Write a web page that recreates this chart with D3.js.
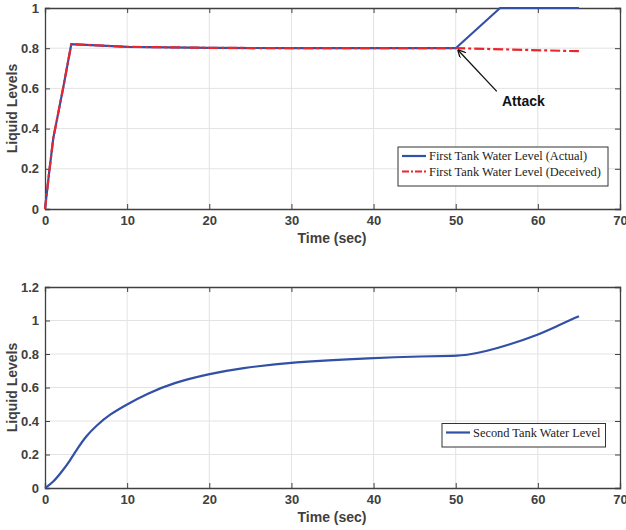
<!DOCTYPE html>
<html>
<head>
<meta charset="utf-8">
<script src="https://cdn.jsdelivr.net/npm/d3@7"></script>
<style>
  body { margin: 0; background: #fff; }
  svg { display: block; }
</style>
</head>
<body>
<svg id="chart" width="626" height="530"></svg>
<script>
'use strict';
// first tank (top panel)
var tankOneTime     = [0, 0.5, 1.0, 2.2, 3.2, 10, 20, 30, 40, 50, 55.4, 65];
var tankOneActual   = [0, 0.18, 0.35, 0.6, 0.82, 0.807, 0.802, 0.8, 0.8, 0.8, 1, 1];
var tankOneDecTime  = [0, 0.5, 1.0, 2.2, 3.2, 10, 20, 30, 40, 50, 65];
var tankOneDeceived = [0, 0.18, 0.35, 0.6, 0.82, 0.807, 0.802, 0.8, 0.8, 0.8, 0.785];
// second tank (bottom panel)
var tankTwoTime  = [0, 0, 1, 2, 3, 4, 5, 6.3, 7.9, 10, 12.4, 15.6, 20, 23.8, 30, 40, 46, 50, 51.4, 53.8, 56.3, 60, 62.3, 65, 65];
var tankTwoLevel = [0, 0, 0.035, 0.095, 0.16, 0.24, 0.31, 0.375, 0.44, 0.5, 0.562, 0.628, 0.682, 0.715, 0.752, 0.777, 0.786, 0.789, 0.794, 0.818, 0.852, 0.914, 0.966, 1.026, 1.026];

var xTicks = [0, 10, 20, 30, 40, 50, 60, 70];
var yTicksTop = [0, 0.2, 0.4, 0.6, 0.8, 1];
var yTicksBottom = [0, 0.2, 0.4, 0.6, 0.8, 1, 1.2];

var BLUE = '#3150a6', RED = '#eb252c', AXIS = '#404040', GRID = '#e3e3e3';
var svg = d3.select('#chart');

function panel(top, bottom, yMax, yTicks) {
    var x = d3.scaleLinear().domain([0, 70]).range([45, 620]);
    var y = d3.scaleLinear().domain([0, yMax]).range([bottom, top]);
    var g = svg.append('g');
    // grid
    g.selectAll('line.vg').data(xTicks.slice(1, -1)).enter().append('line')
        .attr('x1', x).attr('x2', x).attr('y1', top).attr('y2', bottom)
        .attr('stroke', GRID).attr('stroke-width', 1);
    g.selectAll('line.hg').data(yTicks.slice(1, -1)).enter().append('line')
        .attr('y1', y).attr('y2', y).attr('x1', 45).attr('x2', 620)
        .attr('stroke', GRID).attr('stroke-width', 1);
    var fmt = d3.format('~g');
    var axes = [
        [d3.axisBottom(x).tickValues(xTicks).tickFormat(fmt).tickSize(-5).tickPadding(7), 'translate(0,' + bottom + ')'],
        [d3.axisTop(x).tickValues(xTicks).tickFormat('').tickSize(-5), 'translate(0,' + top + ')'],
        [d3.axisLeft(y).tickValues(yTicks).tickFormat(fmt).tickSize(-5).tickPadding(6), 'translate(45,0)'],
        [d3.axisRight(y).tickValues(yTicks).tickFormat('').tickSize(-5), 'translate(620,0)']
    ];
    axes.forEach(function(a) {
        var ag = g.append('g').attr('transform', a[1]).call(a[0]);
        ag.select('.domain').attr('stroke', AXIS).attr('stroke-width', 1.3);
        ag.selectAll('.tick line').attr('stroke', AXIS).attr('stroke-width', 1);
        ag.selectAll('.tick text').attr('fill', AXIS)
            .style('font', 'bold 13px "Liberation Sans", Arial, sans-serif');
    });
    g.append('text').attr('x', 332).attr('y', bottom + 34).attr('text-anchor', 'middle')
        .attr('fill', AXIS).style('font', 'bold 14px "Liberation Sans", Arial, sans-serif')
        .text('Time (sec)');
    g.append('text').attr('transform', 'translate(17,' + ((top + bottom) / 2) + ') rotate(-90)')
        .attr('text-anchor', 'middle')
        .attr('fill', AXIS).style('font', 'bold 14px "Liberation Sans", Arial, sans-serif')
        .text('Liquid Levels');
    return { x: x, y: y, g: g };
}

function series(p, ts, vs, color, dash, curve) {
    var line = d3.line().x(function(d) { return p.x(d[0]); }).y(function(d) { return p.y(d[1]); })
        .curve(curve || d3.curveLinear);
    p.g.append('path').datum(d3.zip(ts, vs)).attr('d', line)
        .attr('fill', 'none').attr('stroke', color).attr('stroke-width', 2.2)
        .attr('stroke-dasharray', dash || null);
}

function legend(g, x0, y0, w, items) {
    var h = 8 + items.length * 15.5;
    g.append('rect').attr('x', x0).attr('y', y0).attr('width', w).attr('height', h)
        .attr('fill', '#fff').attr('stroke', '#333').attr('stroke-width', 1);
    items.forEach(function(it, i) {
        var cy = y0 + 9 + i * 15.5;
        g.append('line').attr('x1', x0 + 4).attr('x2', x0 + 28).attr('y1', cy).attr('y2', cy)
            .attr('stroke', it.color).attr('stroke-width', 2.2).attr('stroke-dasharray', it.dash || null);
        g.append('text').attr('x', x0 + 31).attr('y', cy + 4).attr('fill', '#222')
            .style('font', '12.4px "Liberation Serif", "Times New Roman", serif')
            .text(it.label);
    });
}

// top panel
var p1 = panel(8, 209, 1, yTicksTop);
series(p1, tankOneTime, tankOneActual, BLUE);
series(p1, tankOneDecTime, tankOneDeceived, RED, '10,3,3,3');
legend(p1.g, 398, 147, 210, [
    { label: 'First Tank Water Level (Actual)', color: BLUE },
    { label: 'First Tank Water Level (Deceived)', color: RED, dash: '7,2,2,2' }
]);
// attack arrow
svg.append('defs').append('marker').attr('id', 'head').attr('viewBox', '0 0 10 10')
    .attr('refX', 9).attr('refY', 5).attr('markerWidth', 8).attr('markerHeight', 8)
    .attr('markerUnits', 'userSpaceOnUse').attr('orient', 'auto')
    .append('path').attr('d', 'M0,0 L10,5 L0,10').attr('fill', 'none').attr('stroke', '#111').attr('stroke-width', 1.6);
p1.g.append('line').attr('x1', p1.x(55)).attr('y1', p1.y(0.585)).attr('x2', p1.x(50.3)).attr('y2', p1.y(0.79))
    .attr('stroke', '#111').attr('stroke-width', 1.3).attr('marker-end', 'url(#head)');
p1.g.append('text').attr('x', 502).attr('y', 106).attr('fill', '#111')
    .style('font', 'bold 14px "Liberation Sans", Arial, sans-serif').text('Attack');

// bottom panel
var p2 = panel(287, 488, 1.2, yTicksBottom);
series(p2, tankTwoTime, tankTwoLevel, BLUE, null, d3.curveBasis);
legend(p2.g, 442, 423.5, 163.5, [
    { label: 'Second Tank Water Level', color: BLUE }
]);
</script>
</body>
</html>
